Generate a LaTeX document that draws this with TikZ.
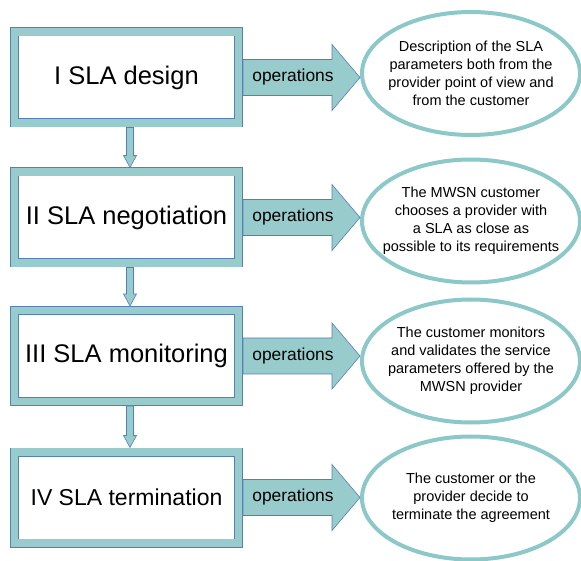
\documentclass[tikz,border=0pt]{standalone}
\usepackage{fontspec}
\setmainfont{Liberation Sans}
\usetikzlibrary{shapes.geometric}
\definecolor{aqua}{RGB}{152,203,203}
\definecolor{aquarim}{RGB}{140,200,200}
\definecolor{rimblue}{RGB}{84,128,186}

\begin{document}
\begin{tikzpicture}[x=1pt,y=1pt,
  phase/.style={draw=rimblue,line width=.7pt,double=aqua,double distance=7.6pt,fill=white,
    minimum width=224pt,minimum height=91pt,outer sep=4.5pt,font=\fontsize{25.5}{30}\selectfont},
  goal/.style={ellipse,draw=aquarim,line width=4pt,fill=white,minimum width=218pt,
    minimum height=123pt,inner xsep=-25pt,inner ysep=0pt,align=center,
    font=\fontsize{14.5}{18}\selectfont},
  band/.style={draw=rimblue,line width=.6pt,fill=aqua},
  oplabel/.style={font=\fontsize{17.4}{20}\selectfont}]
\useasboundingbox (0,0) rectangle (581,560);

% the four phases
\node[phase] (s1) at (126.5,482.5) {I SLA design};
\node[phase] (s2) at (126.5,342.5) {II SLA negotiation};
\node[phase] (s3) at (126.5,204) {III SLA monitoring};
\node[phase,font=\fontsize{23}{28}\selectfont] (s4) at (126.5,62.5) {IV SLA termination};

% what happens in each phase
\node[goal] (e1) at (471,486.5) {Description of the SLA\\parameters both from the\\provider point of view and\\from the customer};
\node[goal] (e2) at (471,339) {The MWSN customer\\chooses a provider with\\a SLA as close as\\possible to its requirements};
\node[goal] (e3) at (471,199) {The customer monitors\\and validates the service\\parameters offered by the\\MWSN provider};
\node[goal] (e4) at (471,62) {The customer or the\\provider decide to\\terminate the agreement};

% block arrows to the right
\foreach \i in {1,...,4}{
  \draw[band] (s\i.east) ++(0,18) -- ++(89,0) -- ++(0,15) -- (e\i.west |- s\i.east)
    -- ++(-28,-33) -- ++(0,15) -- ++(-89,0) -- cycle;
  \node[oplabel] (op\i) at ([xshift=50pt]s\i.east) {operations};
}

% small arrows down between phases
\foreach \a/\b in {s1/s2,s2/s3,s3/s4}
  \draw[band] (\a.south) -- ([yshift=12pt]\b.north) -- ([xshift=-3pt,yshift=12pt]\b.north)
    -- ([xshift=3.5pt]\b.north) -- ([xshift=10pt,yshift=12pt]\b.north)
    -- ([xshift=7pt,yshift=12pt]\b.north) -- ([xshift=7pt]\a.south) -- cycle;
\end{tikzpicture}
\end{document}
